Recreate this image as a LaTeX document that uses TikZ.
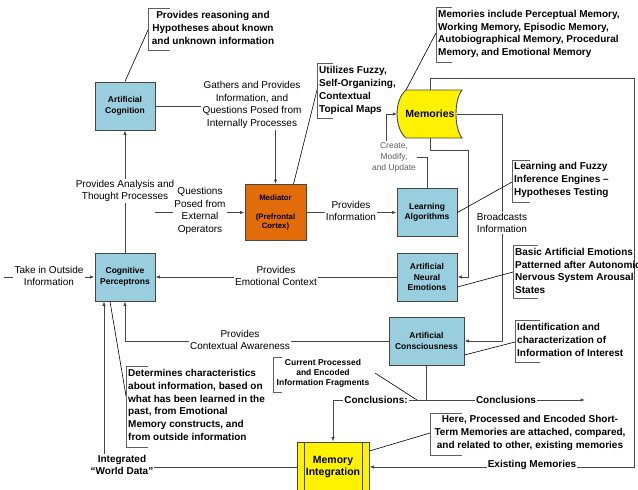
\documentclass[tikz,border=0pt]{standalone}
\usepackage{fontspec}
\setmainfont{Liberation Sans}
\usetikzlibrary{arrows.meta}
\definecolor{nodeblue}{RGB}{153,206,222}
\definecolor{medorange}{RGB}{226,107,10}
\definecolor{lgray}{RGB}{70,70,70}
\definecolor{cmugray}{RGB}{95,95,95}
\newcommand\notebracket[4]{\draw[brk] (#1+#4,#2) -- (#1,#2) -- (#1,#3) -- (#1+#4,#3);}
\begin{document}
\begin{tikzpicture}[x=1pt,y=-1pt,
 bluebox/.style={draw=lgray, fill=nodeblue, line width=0.9pt, minimum width=60pt, minimum height=48pt, align=center, inner sep=1pt, font=\bfseries\fontsize{8.5}{10.5}\selectfont},
 conn/.style={draw=lgray, line width=0.8pt},
 arr/.style={conn, -{Latex[length=4.5pt,width=3.5pt]}},
 lbl/.style={fill=white, inner sep=1.2pt, align=center, font=\fontsize{10}{12.6}\selectfont},
 blbl/.style={lbl, font=\bfseries\fontsize{10}{12.6}\selectfont},
 notetxt/.style={inner sep=0pt, align=left, anchor=west, font=\bfseries\fontsize{10}{12.8}\selectfont},
 brk/.style={draw=cmugray, line width=0.8pt},
 lead/.style={draw=black, line width=0.6pt}]
\useasboundingbox (0,0) rectangle (638,490);

% nodes
\node[bluebox] (cog) at (125,106) {Artificial\\Cognition};
\node[bluebox] (cp) at (125,277) {Cognitive\\Perceptrons};
\node[draw=lgray, fill=medorange, line width=0.9pt, minimum width=61pt, minimum height=56pt, align=center, inner sep=1pt, font=\bfseries\fontsize{7.8}{8.8}\selectfont] (med) at (275.5,212.5) {Mediator\\[10pt](Prefrontal\\Cortex)};
\node[bluebox] (la) at (427,212.5) {Learning\\Algorithms};
\node[bluebox] (ane) at (427,277) {Artificial\\Neural\\Emotions};
\node[bluebox, minimum width=75pt] (acon) at (426.5,341) {Artificial\\Consciousness};
\filldraw[fill=yellow, draw=lgray, line width=0.9pt] (406,90) -- (462,90) .. controls (454,100) and (454,128) .. (462,138) -- (406,138) .. controls (394,128) and (394,100) .. (406,90) -- cycle;
\node[minimum width=65pt, minimum height=48pt, inner sep=0pt, font=\bfseries\fontsize{10.5}{12}\selectfont] (mem) at (430,114) {Memories};
\node[draw=lgray, fill=yellow, line width=0.9pt, minimum width=72pt, minimum height=50pt, align=center, inner sep=1pt, font=\bfseries\fontsize{10.5}{12.8}\selectfont] (mi) at (333,467) {Memory\\Integration};
\draw[lgray, line width=0.9pt] ([xshift=8pt]mi.north west) -- ([xshift=8pt]mi.south west);
\draw[lgray, line width=0.9pt] ([xshift=-7pt]mi.north east) -- ([xshift=-7pt]mi.south east);

% connectors
\coordinate (qext) at (155,212.5);
\coordinate (outside) at (4,277);
\coordinate (jn) at (426.5,400);
\coordinate (concl) at (585,400);
\draw[arr] (cp.north) -- (cog.south);
\draw[arr] (cog.east) -| (med.north);
\draw[arr] (qext) -- (med.west);
\draw[arr] (med.east) -- (la.west);
\draw[arr] (la.north) |- (386,157) -- (386,114) -- (mem.west);
\draw[arr] (mem.north) |- (634,78) |- (mi.east);
\draw[arr] (mem.south) |- (468,150) |- (ane.east);
\draw[arr] ([xshift=-6pt]mem.east) -- (502,114) |- (acon.east);
\draw[arr] (ane.west) -- (cp.east);
\draw[arr] (acon.west) -| (cp.south);
\draw[arr] (outside) -- (cp.west);
\draw[arr] (mi.west) -| ([xshift=-21pt]cp.south);
\draw[conn] (acon.south) -- (jn);
\draw[arr] (jn) -- (concl);
\draw[arr] (jn) -| (mi.north);

% leader lines
\draw[lead] (cog.north) -- (148,30);
\draw[lead] ([xshift=18pt]med.north) -- (317,90);
\draw[lead] (406,90) -- (436,33);
\draw[lead] (la.east) -- (512,182);
\draw[lead] ([yshift=-10pt]ane.east) -- (513,272);
\draw[lead] ([yshift=-14pt]acon.east) -- (515,342);
\draw[lead] ([yshift=16pt]mi.east) -- (430,433);
\draw[lead] (375,373) -- (417,400);
\draw[lead] ([xshift=-15pt]cp.south) -- (126,396);

% connector labels
\node[lbl] (l1) at (49,276) {Take in Outside\\Information};
\node[lbl] (l2) at (125,191) {Provides Analysis and\\Thought Processes};
\node[lbl] (l3) at (252,105) {Gathers and Provides\\Information, and\\Questions Posed from\\Internally Processes};
\node[lbl] (l4) at (200,211) {Questions\\Posed from\\External\\Operators};
\node[lbl] (l5) at (351,211) {Provides\\Information};
\node[lbl, font=\fontsize{8.5}{11}\selectfont, text=cmugray] (l6) at (394,157) {Create,\\Modify,\\and Update};
\node[lbl] (l7) at (502,223) {Broadcasts\\Information};
\node[lbl] (l8) at (276,276) {Provides\\Emotional Context};
\node[lbl] (l9) at (240,340) {Provides\\Contextual Awareness};
\node[blbl] (l10) at (122,465) {Integrated\\“World Data”};
\node[blbl] (l11) at (532,465) {Existing Memories};
\node[blbl] (l12) at (376,400) {Conclusions:};
\node[blbl] (l13) at (506,400) {Conclusions};

% annotation notes
\notebracket{148}{8}{50}{22}
\node[notetxt, align=center, anchor=center] (n1) at (213,28) {Provides reasoning and\\Hypotheses about known\\and unknown information};
\notebracket{317}{63}{118}{16}
\node[notetxt] (n2) at (319,90.5) {Utilizes Fuzzy,\\Self-Organizing,\\Contextual\\Topical Maps};
\notebracket{436}{7}{62}{16}
\node[notetxt] (n3) at (438,34) {Memories include Perceptual Memory,\\Working Memory, Episodic Memory,\\Autobiographical Memory, Procedural\\Memory, and Emotional Memory};
\notebracket{512}{160}{202}{18}
\node[notetxt] (n4) at (514,180) {Learning and Fuzzy\\Inference Engines –\\Hypotheses Testing};
\notebracket{513}{245}{298}{25}
\node[notetxt] (n5) at (515,271) {Basic Artificial Emotions\\Patterned after Autonomic\\Nervous System Arousal\\States};
\notebracket{515}{320}{362}{25}
\node[notetxt] (n6) at (517,340) {Identification and\\characterization of\\Information of Interest};
\notebracket{430}{413}{455}{32}
\node[notetxt, align=center, anchor=center] (n7) at (530,433) {Here, Processed and Encoded Short-\\Term Memories are attached, compared,\\and related to other, existing memories};
\notebracket{273}{357}{392}{9}
\node[notetxt, align=center, anchor=center, font=\bfseries\fontsize{8.5}{10}\selectfont] (n8) at (323,373) {Current Processed\\and Encoded\\Information Fragments};
\notebracket{126}{366}{447}{22}
\node[notetxt] (n9) at (128,405) {Determines characteristics\\about information, based on\\what has been learned in the\\past, from Emotional\\Memory constructs, and\\from outside information};
\end{tikzpicture}
\end{document}
